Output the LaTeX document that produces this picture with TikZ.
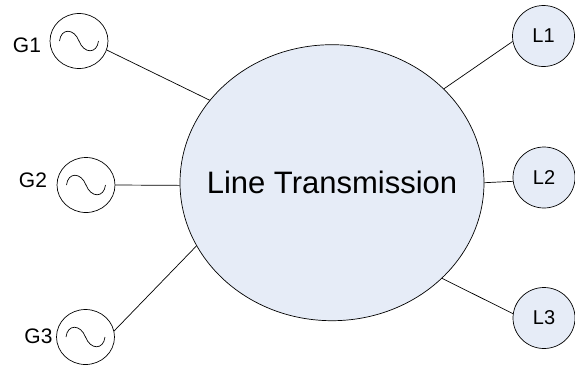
\documentclass[tikz,border=0pt]{standalone}
\usepackage{fontspec}
\setmainfont{Liberation Sans}
\usepackage{tikz}
\usetikzlibrary{positioning,shapes.geometric,calc}
\definecolor{busfill}{RGB}{230,236,247}
\tikzset{
  gen/.style={ellipse, draw, line width=0.7pt, minimum width=58pt, minimum height=55pt, inner sep=0pt},
  load/.style={ellipse, draw, line width=0.7pt, fill=busfill, minimum width=62pt, minimum height=61pt, inner sep=0pt, font=\fontsize{20}{22}\selectfont},
  bus/.style={ellipse, draw, line width=0.7pt, fill=busfill, minimum width=304pt, minimum height=276pt, inner sep=0pt},
  line/.style={line width=0.7pt},
  wave/.style={line width=0.7pt},
  lbl/.style={inner sep=0pt, font=\fontsize{21}{24}\selectfont}
}
\newcommand{\acwave}[1]{%
  \draw[wave] ($(#1.center)+(-19.5pt,0pt)$) .. controls ($(#1.center)+(-18pt,13pt)$) and ($(#1.center)+(-5pt,13pt)$) .. (#1.center)
    .. controls ($(#1.center)+(5pt,-13pt)$) and ($(#1.center)+(18pt,-13pt)$) .. ($(#1.center)+(19.5pt,0pt)$);}
\begin{document}
\begin{tikzpicture}
\useasboundingbox (0pt,0pt) rectangle (575pt,-365pt);
\draw (332pt, -182.7pt)node[bus](bus){};
\draw (332pt, -182pt)node[inner sep=0pt, font=\fontsize{31}{36}\selectfont](bustext){Line Transmission};
\draw (79pt, -41pt)node[gen](g1){};
\draw (86pt, -185pt)node[gen](g2){};
\draw (85.5pt, -337pt)node[gen](g3){};
\draw (543.5pt, -36pt)node[load](l1){L1};
\draw (544pt, -177.5pt)node[load](l2){L2};
\draw (544pt, -318pt)node[load](l3){L3};
\draw (27pt, -45pt)node[lbl](g1text){G1};
\draw (33pt, -180pt)node[lbl](g2text){G2};
\draw (38.5pt, -336pt)node[lbl](g3text){G3};
\acwave{g1}
\acwave{g2}
\acwave{g3}
\draw[line] (g1.-18) -- (bus.146);
\draw[line] (g2.0) -- (bus.181);
\draw[line] (g3.12) -- (bus.205);
\draw[line] (l1.190.6) -- (bus.40.8);
\draw[line] (l2.187.4) -- (bus.0);
\draw[line] (l3.172.6) -- (bus.-41.9);
\end{tikzpicture}
\end{document}
